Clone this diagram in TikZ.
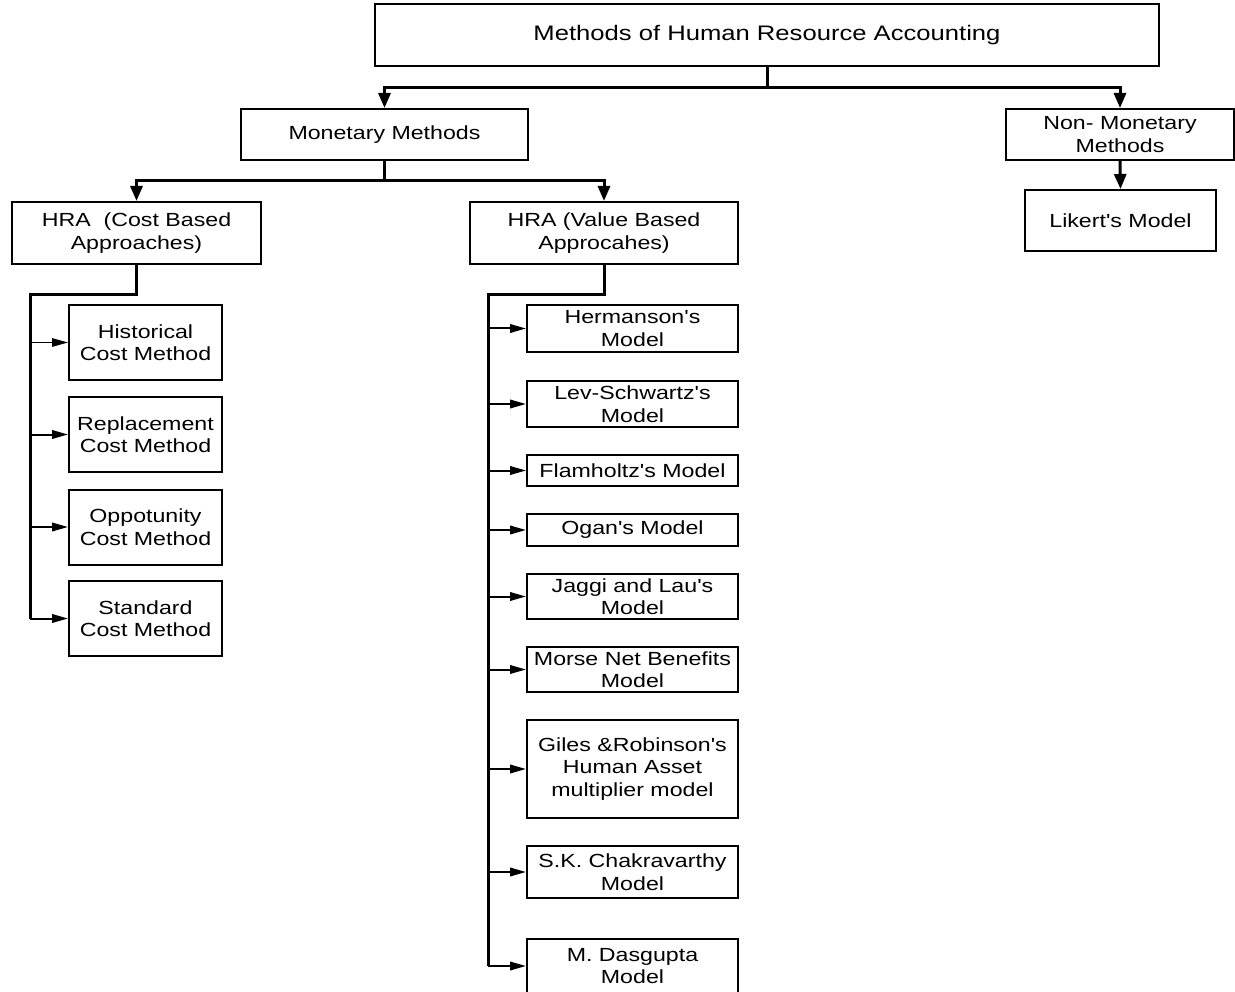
\documentclass[tikz,border=0pt]{standalone}
\usepackage{fontspec}
\newfontfamily\hrafont[FakeStretch=1.22]{Liberation Sans}
\usetikzlibrary{arrows.meta}
\begin{document}
\begin{tikzpicture}[x=1pt,y=-1pt,
  box/.style={draw,line width=2pt,inner sep=0pt,align=center,
    font=\hrafont\fontsize{19}{22.5}\selectfont},
  trunk/.style={line width=3pt},
  down/.style={line width=3pt,-{Triangle[length=15pt,width=12pt]}},
  side/.style={line width=2pt,-{Triangle[length=16pt,width=8.5pt]}}]
\clip (0,0) rectangle (1235,992);
\fill[white] (0,0) rectangle (1235,992);

\node[box,minimum width=784pt,minimum height=62pt,font=\hrafont\fontsize{21}{24}\selectfont] (top) at (767,35.5) {Methods of Human Resource Accounting};
\node[box,minimum width=287pt,minimum height=51pt] (mon) at (384.5,134.5) {Monetary Methods};
\node[box,minimum width=228pt,minimum height=51pt] (nonmon) at (1120,134.5) {Non- Monetary\\Methods};
\node[box,minimum width=191pt,minimum height=61pt] (likert) at (1120.5,220.5) {Likert's Model};
\node[box,minimum width=249pt,minimum height=62pt] (cost) at (136.5,233) {HRA\ \ (Cost Based\\Approaches)};
\node[box,minimum width=268pt,minimum height=62pt] (val) at (604,233) {HRA (Value Based\\Approcahes)};

\node[box,minimum width=153pt,minimum height=75pt] (c1) at (145.5,342.5) {Historical\\Cost Method};
\node[box,minimum width=153pt,minimum height=75pt] (c2) at (145.5,434.5) {Replacement\\Cost Method};
\node[box,minimum width=153pt,minimum height=75pt] (c3) at (145.5,527) {Oppotunity\\Cost Method};
\node[box,minimum width=153pt,minimum height=75pt] (c4) at (145.5,618.5) {Standard\\Cost Method};

\node[box,minimum width=211pt,minimum height=47pt] (v1) at (632.5,328.5) {Hermanson's\\Model};
\node[box,minimum width=211pt,minimum height=46pt] (v2) at (632.5,404) {Lev-Schwartz's\\Model};
\node[box,minimum width=211pt,minimum height=31pt] (v3) at (632.5,470.5) {Flamholtz's Model};
\node[box,minimum width=211pt,minimum height=32pt] (v4) at (632.5,530) {Ogan's Model};
\node[box,minimum width=211pt,minimum height=45pt] (v5) at (632.5,596.5) {Jaggi and Lau's\\Model};
\node[box,minimum width=211pt,minimum height=45pt] (v6) at (632.5,669.5) {Morse Net Benefits\\Model};
\node[box,minimum width=211pt,minimum height=98pt] (v7) at (632.5,769) {Giles \&Robinson's\\Human Asset\\multiplier model};
\node[box,minimum width=211pt,minimum height=52pt] (v8) at (632.5,872) {S.K. Chakravarthy\\Model};
\node[box,minimum width=211pt,minimum height=55pt] (v9) at (632.5,966) {M. Dasgupta\\Model};

% top level
\coordinate (j1) at (767,88);
\draw[trunk] (top.south) -- (j1);
\draw[down] (j1) -| (mon.north);
\draw[down] (j1) -| (nonmon.north);
\draw[down] (nonmon.south) -- (likert.north);

\coordinate (j2) at (384.5,181);
\draw[trunk] (mon.south) -- (j2);
\draw[down] (j2) -| (cost.north);
\draw[down] (j2) -| (val.north);

% cost branch
\coordinate (ct) at (30,295);
\coordinate (cb) at (30,618.5);
\draw[trunk] (cost.south) |- (ct) -- (cb);
\draw[side,line width=1.2pt] (cb |- c1.west) -- (c1.west);
\foreach \n in {c2,c3,c4}
  \draw[side] (cb |- \n.west) -- (\n.west);

% value branch
\coordinate (vt) at (488,295);
\coordinate (vb) at (488,966);
\draw[trunk] (val.south) |- (vt) -- (vb);
\foreach \n in {v1,v2,v3,v4,v5,v6,v7,v8}
  \draw[side] (vb |- \n.west) -- (\n.west);
\draw[side] (vb) -- (v9.west);
\end{tikzpicture}
\end{document}
